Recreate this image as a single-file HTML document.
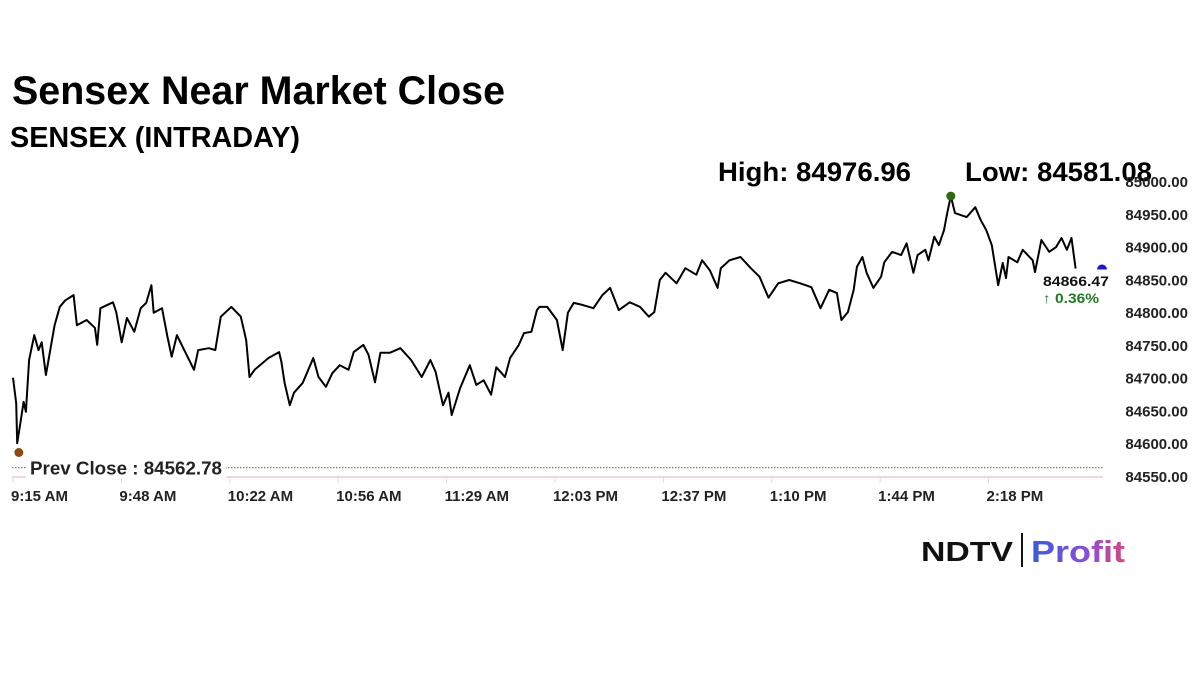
<!DOCTYPE html>
<html><head><meta charset="utf-8"><style>
html,body{margin:0;padding:0;background:#fff;}
svg{display:block;}
text{font-family:"Liberation Sans",sans-serif;}
</style></head><body>
<svg id="chart" width="1200" height="674" viewBox="0 0 1200 674">
<defs><linearGradient id="pg" x1="0" x2="1"><stop offset="0" stop-color="#3a5bd9"/><stop offset="0.6" stop-color="#8a4fd8"/><stop offset="1" stop-color="#d8457e"/></linearGradient></defs>
<text x="12" y="104" font-size="40" font-weight="bold" textLength="493" lengthAdjust="spacingAndGlyphs" fill="#000">Sensex Near Market Close</text>
<text x="10" y="147" font-size="29" font-weight="bold" textLength="290" lengthAdjust="spacingAndGlyphs" fill="#000">SENSEX (INTRADAY)</text>
<text x="718" y="181" font-size="27" font-weight="bold" textLength="193" lengthAdjust="spacingAndGlyphs" fill="#000">High: 84976.96</text>
<text x="965" y="181" font-size="27" font-weight="bold" textLength="187" lengthAdjust="spacingAndGlyphs" fill="#000">Low: 84581.08</text>
<g id="yaxis"></g>
<g id="xaxis"></g>
<line x1="12" x2="1103" y1="477" y2="477" stroke="#f2c6cf" stroke-width="1.5"/>
<g id="prev"></g>
<path id="line" fill="none" stroke="#000" stroke-width="2" stroke-linejoin="round"/>
<g id="marks"></g>
<text x="1043" y="286" font-size="14" font-weight="bold" fill="#111" textLength="66" lengthAdjust="spacingAndGlyphs">84866.47</text>
<text x="1043" y="303" font-size="14" font-weight="bold" fill="#1e7a1e" textLength="56" lengthAdjust="spacingAndGlyphs">↑ 0.36%</text>
<g>
<text x="921" y="561" font-size="28" font-weight="bold" fill="#111" textLength="92" lengthAdjust="spacingAndGlyphs">NDTV</text>
<rect x="1021" y="533" width="2" height="34" fill="#111"/>
<text x="1031" y="562" font-size="31" font-weight="bold" fill="url(#pg)" textLength="94" lengthAdjust="spacingAndGlyphs">Profit</text>
</g>
</svg>
<script>
const minutes=[0,1,1.3,2.3,3.3,4,5,6.6,7.9,8.9,10.2,11.2,12.9,14.5,16.2,18.8,19.8,22.8,25.4,26.1,27.1,31,32,33.7,35.3,37.6,39.6,41.3,42.9,43.6,46.2,47.9,49.2,50.8,52.8,56.1,57.4,60.7,62.7,64.4,67.7,70.6,72.3,73.3,74.9,79.2,82.5,83.2,84.2,85.8,87.1,89.8,93.1,94.7,97,99,101.3,104,105.6,108.6,110.2,112.2,113.9,116.8,120.1,123.4,126.7,129.4,131,133.3,135,136,138.6,141.6,143.6,145.9,148.2,149.8,152.5,154.1,156.8,158.4,160.7,162.4,163.2,165.6,168.6,170.4,172.0,173.8,176.5,179.9,182.7,185.1,187.8,191.2,194.4,197.1,198.8,200.5,202.3,205.7,208.4,211.8,213.6,216.0,218.4,219.4,222.1,225.5,228.7,231.4,234.2,237.2,240.6,244.0,247.5,250.3,253.0,255.4,256.8,258.8,260.6,261.6,263.3,264.6,266.7,269.1,270.1,272.5,275.3,277.0,279.1,280.4,282.8,283.8,285.6,287.0,288.6,289.6,290.7,292.0,295.6,298.3,299.9,301.7,303.4,305.4,306.8,307.8,308.6,311.3,313.0,316.1,316.8,318.8,321.2,323.3,325.0,326.7,328.1,329.4];
const values=[84700,84661,84600,84631,84663,84648,84727,84765,84742,84754,84704,84732,84780,84808,84818,84826,84780,84788,84776,84750,84806,84815,84800,84754,84791,84770,84806,84814,84841,84799,84806,84762,84732,84765,84745,84712,84742,84745,84742,84793,84808,84793,84757,84701,84712,84730,84739,84724,84692,84658,84677,84692,84730,84701,84686,84707,84719,84712,84739,84750,84735,84693,84738,84738,84745,84727,84701,84727,84709,84658,84677,84643,84684,84719,84689,84696,84674,84716,84701,84730,84750,84768,84770,84803,84808,84808,84788,84742,84799,84814,84811,84806,84826,84837,84803,84815,84808,84793,84800,84849,84860,84844,84867,84857,84879,84864,84837,84867,84879,84884,84867,84854,84822,84844,84849,84844,84838,84806,84834,84829,84788,84800,84834,84869,84884,84860,84837,84854,84876,84892,84887,84905,84860,84887,84895,84879,84915,84902,84925,84951,84977,84951,84945,84960,84941,84925,84902,84841,84875,84852,84884,84876,84895,84879,84861,84910,84892,84899,84913,84895,84913,84866.47];
const yTicks=[85000,84950,84900,84850,84800,84750,84700,84650,84600,84550];
const xTickLabels=["9:15 AM","9:48 AM","10:22 AM","10:56 AM","11:29 AM","12:03 PM","12:37 PM","1:10 PM","1:44 PM","2:18 PM"];
const xTickMinutes=[0,33.6,67.2,100.8,134.4,168,201.6,235.2,268.8,302.4];
const prevClose=84562.78;
const highValue=84976.96, highMinute=290.7;
const lowMarkValue=84595, lowMinute=1.5;

const NS="http://www.w3.org/2000/svg";
const X=m=>13+m*3.226;
const Y=v=>181+(85000-v)*295/450;
function mk(tag,attrs,parent){const e=document.createElementNS(NS,tag);for(const k in attrs)e.setAttribute(k,attrs[k]);parent.appendChild(e);return e;}
const ya=document.getElementById('yaxis');
yTicks.forEach(v=>{const t=mk('text',{x:1188,y:Y(v)+6,'font-size':15,'font-weight':'bold','text-anchor':'end',fill:'#222'},ya);t.textContent=v.toFixed(2);

});
const xa=document.getElementById('xaxis');
xTickLabels.forEach((l,i)=>{const x=X(xTickMinutes[i]);
const tk=mk('line',{x1:x,x2:x,y1:477,y2:483,stroke:'#ddd'},xa);


const t=mk('text',{x:x-2,y:501,'font-size':15,'font-weight':'bold',fill:'#222'},xa);t.textContent=l;

});
const pg=document.getElementById('prev');const py=Y(prevClose);
const pl=mk('line',{x1:12,x2:1103,y1:py,y2:py,stroke:'#a0784a','stroke-width':1.3,'stroke-dasharray':'1.5,1.5'},pg);


const pr=mk('rect',{x:26,y:py-11,width:200,height:22,fill:'#fff'},pg);


const pt=mk('text',{x:30,y:py+7,'font-size':18,'font-weight':'bold',fill:'#222',textLength:192,lengthAdjust:'spacingAndGlyphs'},pg);pt.textContent='Prev Close : '+prevClose.toFixed(2);


document.getElementById('line').setAttribute('d',minutes.map((m,i)=>(i?'L':'M')+X(m).toFixed(1)+','+Y(values[i]).toFixed(1)).join(''));
const mg=document.getElementById('marks');
const hm=mk('circle',{cx:X(highMinute),cy:Y(highValue),r:4.5,fill:'#2d6a12'},mg);


const lm=mk('circle',{cx:X(lowMinute)+1,cy:Y(lowMarkValue)+6,r:4.5,fill:'#8a4a10'},mg);


const ly=Y(values[values.length-1]);
const lastM=mk('path',{d:`M1097,${ly+1} A5,5 0 0 1 1107,${ly+1} Z`,fill:'#1a1acc'},mg);


</script>
</body></html>
